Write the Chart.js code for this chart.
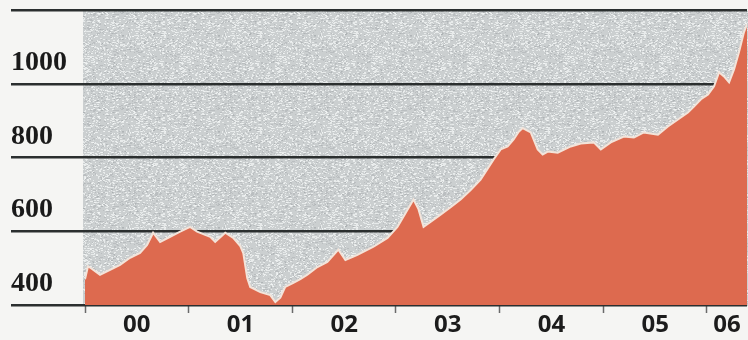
<!DOCTYPE html>
<html>
<head>
<meta charset="utf-8">
<script src="https://cdn.jsdelivr.net/npm/chart.js@4/dist/chart.umd.min.js"></script>
<style>
  html, body { margin: 0; padding: 0; background: #f5f5f3; }
  #wrap { width: 748px; height: 340px; }
</style>
</head>
<body>
<div id="wrap"><canvas id="c" width="748" height="340"></canvas></div>
<script>
// Index level, sampled at irregular dates (decimal years)
const dates = [
  2000.000, 2000.029, 2000.068, 2000.145, 2000.242, 2000.338, 2000.435, 2000.531,
  2000.599, 2000.657, 2000.725, 2000.821, 2000.918, 2001.014, 2001.082, 2001.159,
  2001.208, 2001.256, 2001.353, 2001.430, 2001.498, 2001.527, 2001.565, 2001.594,
  2001.691, 2001.787, 2001.836, 2001.884, 2001.932, 2002.010, 2002.077, 2002.145,
  2002.242, 2002.338, 2002.444, 2002.512, 2002.628, 2002.783, 2002.918, 2003.014,
  2003.111, 2003.169, 2003.217, 2003.266, 2003.333, 2003.430, 2003.527, 2003.623,
  2003.720, 2003.816, 2003.942, 2004.010, 2004.077, 2004.135, 2004.184, 2004.222,
  2004.300, 2004.367, 2004.415, 2004.464, 2004.560, 2004.686, 2004.783, 2004.908,
  2004.976, 2005.072, 2005.198, 2005.295, 2005.391, 2005.527, 2005.623, 2005.720,
  2005.816, 2005.874, 2005.942, 2006.010, 2006.068, 2006.116, 2006.164, 2006.213,
  2006.261, 2006.309, 2006.357, 2006.386
];
const prices = [
  470, 505, 498, 482, 495, 509, 528, 541,
  563, 596, 571, 585, 599, 612, 599, 590,
  585, 571, 596, 582, 560, 541, 473, 449,
  435, 427, 408, 420, 449, 460, 470, 482,
  503, 517, 550, 522, 536, 558, 582, 612,
  658, 686, 660, 612, 625, 645, 665, 686,
  712, 740, 795, 822, 830, 849, 870, 880,
  868, 822, 808, 816, 813, 830, 838, 841,
  822, 841, 857, 854, 868, 862, 884, 903,
  922, 938, 958, 971, 993, 1031, 1020, 1004,
  1039, 1086, 1140, 1162
];

// Axis setup
const yTicks = [400, 600, 800, 1000, 1200];
const yTickLabels = ['400', '600', '800', '1000', ''];
const years = [2000, 2001, 2002, 2003, 2004, 2005, 2006];
const yearLabels = ['00', '01', '02', '03', '04', '05', '06'];

const xMin = dates[0];
const xMax = dates[dates.length - 1];
// each year label sits midway through its (possibly partial) year
const labelPos = years.map(y => (y + Math.min(y + 1, xMax)) / 2);

// stippled grey backdrop for the plot area
function makeStipple() {
  const c = document.createElement('canvas');
  c.width = 96; c.height = 96;
  const g = c.getContext('2d');
  g.fillStyle = '#cbcfd0';
  g.fillRect(0, 0, 96, 96);
  let s = 12345;
  const next = () => { s = (s * 1103515245 + 12345) & 0x7fffffff; return s / 0x7fffffff; };
  for (let i = 0; i < 2600; i++) {
    const x = Math.floor(next() * 96), y = Math.floor(next() * 96);
    const light = next() < 0.6;
    g.fillStyle = light ? 'rgba(244,246,246,0.7)' : 'rgba(160,166,168,0.4)';
    g.fillRect(x, y, 1 + Math.floor(next() * 2), 1);
  }
  return g.createPattern(c, 'repeat');
}

const plotBackground = {
  id: 'plotBackground',
  beforeDraw(chart) {
    const { ctx, chartArea: a } = chart;
    ctx.save();
    ctx.fillStyle = makeStipple();
    ctx.fillRect(a.left - 2, a.top + 1, a.right - a.left + 4, a.bottom - a.top);
    ctx.restore();
  }
};

new Chart(document.getElementById('c'), {
  type: 'line',
  data: {
    datasets: [{
      data: dates.map((d, i) => ({ x: d, y: prices[i] })),
      fill: 'start',
      backgroundColor: '#dd6a4f',
      borderColor: '#f3e4da',
      borderWidth: 2,
      pointRadius: 0,
      tension: 0
    }]
  },
  options: {
    responsive: false,
    animation: false,
    layout: { padding: { left: 11, top: 10, right: 1, bottom: 0 } },
    plugins: { legend: { display: false }, tooltip: { enabled: false } },
    scales: {
      x: {
        type: 'linear',
        min: xMin,
        max: xMax,
        afterBuildTicks(scale) {
          const vals = years.concat(labelPos).sort((a, b) => a - b);
          scale.ticks = vals.map(v => ({ value: v }));
        },
        afterFit(scale) { scale.height = 35; scale.paddingLeft = 0; scale.paddingRight = 0; },
        border: { display: false },
        grid: {
          drawOnChartArea: false,
          tickLength: 8,
          tickWidth: 1.5,
          tickColor: ctx => (ctx.tick && years.includes(ctx.tick.value)) ? '#6a6a6a' : 'rgba(0,0,0,0)'
        },
        ticks: {
          autoSkip: false,
          maxRotation: 0,
          padding: -2,
          color: '#1c1c1c',
          font: { family: 'Open Sans', size: 24, weight: 700 },
          callback(v) {
            const i = labelPos.indexOf(v);
            return i >= 0 ? yearLabels[i] : '';
          }
        }
      },
      y: {
        min: 400,
        max: 1200,
        afterBuildTicks(scale) { scale.ticks = yTicks.map(v => ({ value: v })); },
        afterFit(scale) { scale.width = 74; scale.paddingTop = 0; scale.paddingBottom = 0; },
        border: { display: false },
        grid: {
          color: '#2b2f2f',
          lineWidth: 2.5,
          tickLength: 74
        },
        ticks: {
          crossAlign: 'far',
          labelOffset: -21,
          color: '#1a1a1a',
          font: { family: 'Liberation Serif', size: 28, weight: 'bold' },
          callback(v) {
            const i = yTicks.indexOf(v);
            return i >= 0 ? yTickLabels[i] : '';
          }
        }
      }
    }
  },
  plugins: [plotBackground]
});
</script>
</body>
</html>
